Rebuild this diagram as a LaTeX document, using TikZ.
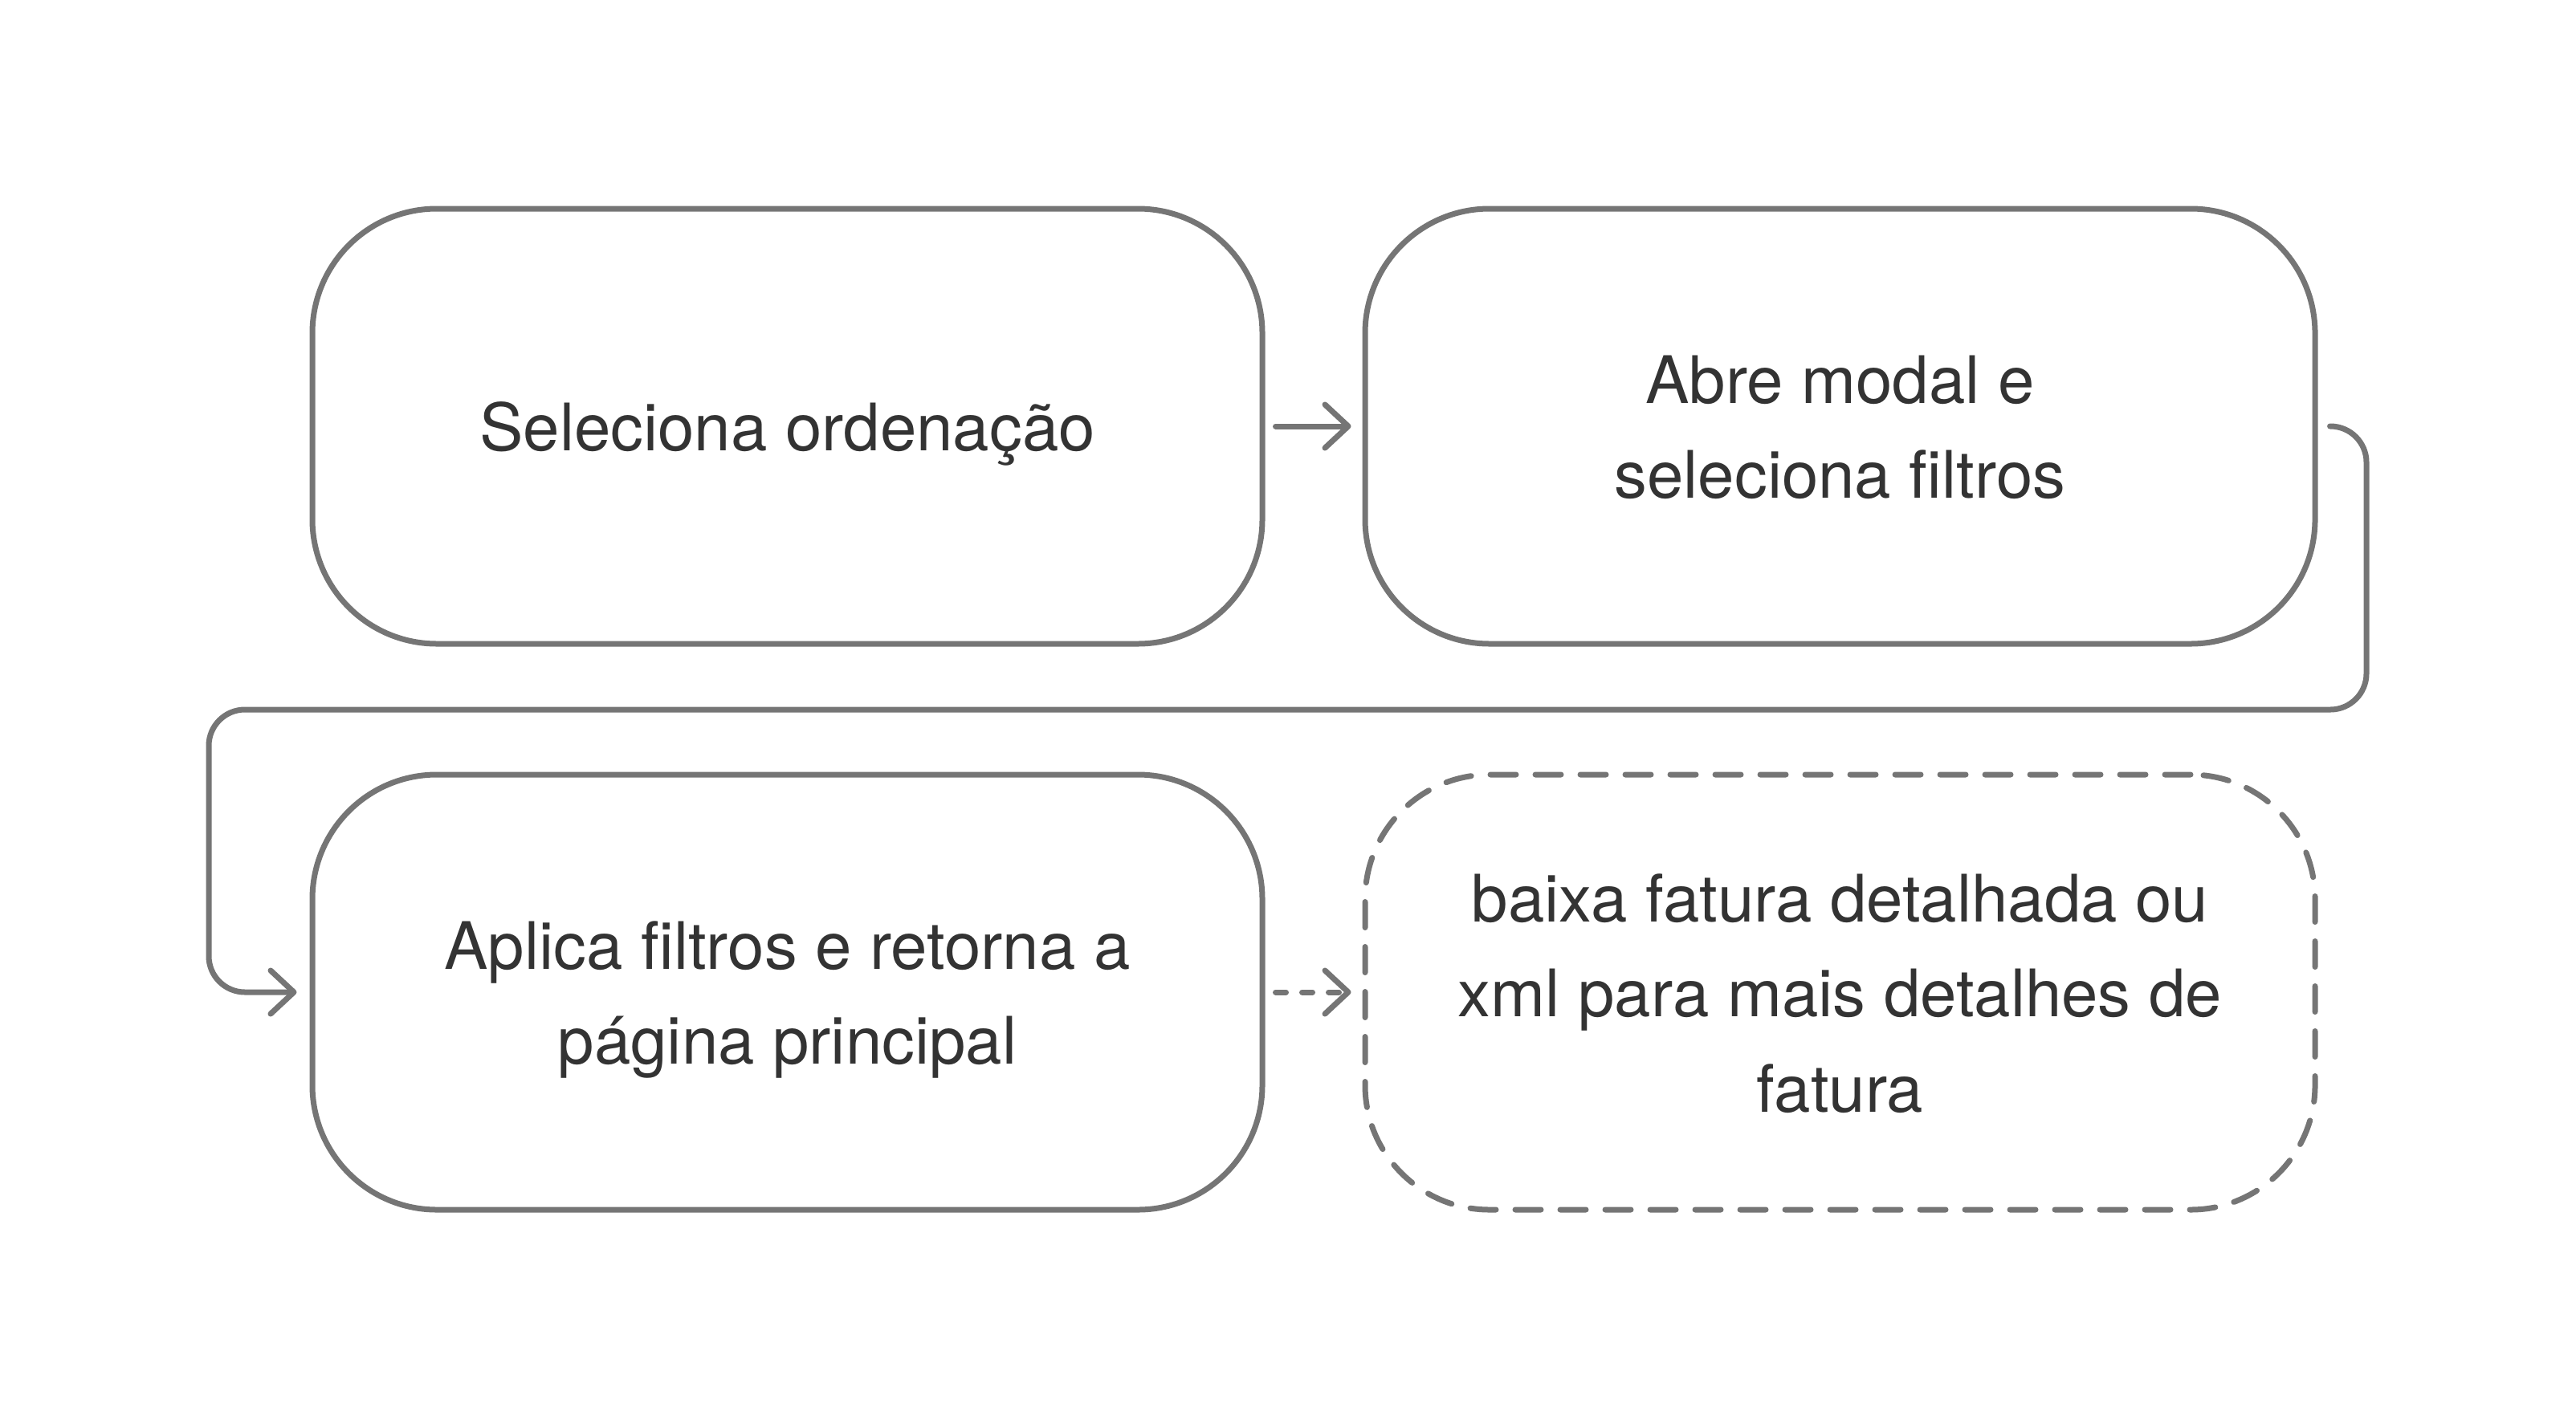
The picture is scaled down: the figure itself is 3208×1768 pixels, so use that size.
\documentclass[tikz,border=0pt]{standalone}
\usepackage{fontspec}
\setmainfont{TeX Gyre Heros}
\usetikzlibrary{arrows.meta}
\definecolor{linegray}{HTML}{757575}
\definecolor{textgray}{HTML}{333333}
\newcommand\tstrut{\rule[-8.88pt]{0pt}{33.1pt}}
\tikzset{
  box/.style={draw=linegray, line width=1.75pt, rounded corners=38.75pt,
    minimum width=295.75pt, minimum height=135.5pt, align=center,
    text=textgray, font=\fontsize{20.4pt}{29.6pt}\selectfont, inner sep=0pt},
  dashbox/.style={box, dash pattern=on 8pt off 6pt, line cap=round},
  conn/.style={draw=linegray, line width=1.75pt, line cap=round, line join=round,
    -{Straight Barb[length=7.25pt, width=13.5pt, line cap=round, line join=round]}},
  dconn/.style={conn, dash pattern=on 3.25pt off 5pt},
}
\begin{document}
\begin{tikzpicture}[x=0.25pt, y=-0.25pt]
\useasboundingbox[fill=white] (0,0) rectangle (3208,1768);
\node[box] (b1) at (980.5,531) {\tstrut Seleciona ordenação};
\node[box] (b2) at (2291.5,531) {\tstrut Abre modal e\\\strut seleciona filtros};
\node[box] (b3) at (980.5,1236) {\tstrut Aplica filtros e retorna a\\\strut página principal};
\node[dashbox] (b4) at (2291.5,1236) {\tstrut baixa fatura detalhada ou\\\strut xml para mais detalhes de\\\strut fatura};
\draw[conn] ([xshift=3.25pt]b1.east) -- ([xshift=-3.5pt]b2.west);
\draw[dconn] ([xshift=3.25pt]b3.east) -- ([xshift=-3.5pt]b4.west);
\coordinate (r) at (2947,884);
\coordinate (l) at (260,884);
\draw[conn, rounded corners=11.25pt] ([xshift=3.75pt]b2.east) -| (r) -- (l) |- ([xshift=-4pt]b3.west);
\end{tikzpicture}
\end{document}
